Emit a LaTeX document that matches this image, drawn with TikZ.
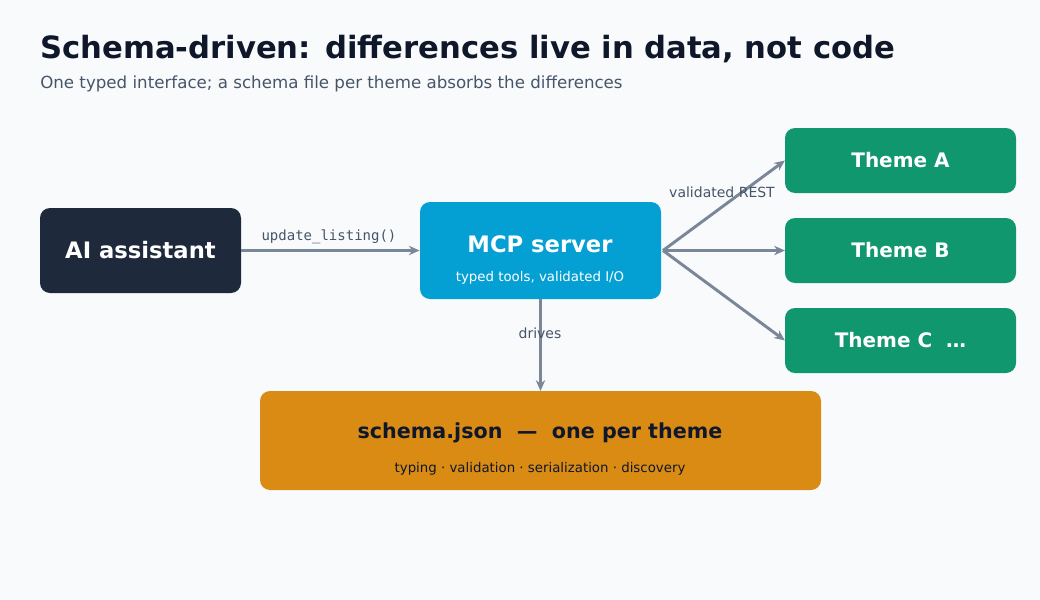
\documentclass[tikz,border=0pt]{standalone}
\usepackage{fontspec}
\setmainfont{DejaVu Sans}
\setmonofont{DejaVu Sans Mono}
\usetikzlibrary{arrows.meta}
\definecolor{bg}{HTML}{F8FAFC}
\definecolor{ink}{HTML}{0F172A}
\definecolor{sub}{HTML}{475569}
\definecolor{dark}{HTML}{1E293B}
\definecolor{mcp}{HTML}{04A0D4}
\definecolor{theme}{HTML}{10976D}
\definecolor{schema}{HTML}{D98B14}
\definecolor{arr}{HTML}{7B8699}
\begin{document}
\begin{tikzpicture}[x=0.75pt,y=-0.75pt,
  box/.style={draw=none,rounded corners=9pt,inner sep=0pt},
  conn/.style={draw=arr,line width=2.2pt,-{Stealth[length=8pt,width=7pt]}},
  lbl/.style={text=sub,font=\fontsize{10.5}{12}\selectfont}]
\fill[bg] (0,0) rectangle (1040,600);
\useasboundingbox (0,0) rectangle (1040,600);
\node[anchor=base west,text=ink,font=\fontsize{23}{27}\bfseries\selectfont,inner sep=0] (title) at (40,58) {Schema-driven: differences live in data, not code};
\node[anchor=base west,text=sub,font=\fontsize{12.5}{15}\selectfont,inner sep=0] (subt) at (40,88) {One typed interface; a schema file per theme absorbs the differences};
\fill[dark,rounded corners=7.5pt] (40,208) rectangle (241,293);
\node (ai) at (140.5,250.5) [minimum width=151pt,minimum height=64pt,text=white,font=\fontsize{17}{20}\bfseries\selectfont] {AI assistant};
\fill[mcp,rounded corners=7.5pt] (420,202) rectangle (661,299);
\node (mcp) at (540.5,250.5) [minimum width=181pt,minimum height=73pt] {};
\node[text=white,font=\fontsize{17}{20}\bfseries\selectfont] (mcpt) at (540,244) {MCP server};
\node[text=white,font=\fontsize{10}{12}\selectfont] (mcps) at (540,278) {typed tools, validated I/O};
\foreach \n/\y/\t in {ta/160.5/Theme A, tb/250.5/Theme B, tc/340.5/{Theme C\ \ …}}{
  \fill[theme,rounded corners=7.5pt] (785,\y-32.5) rectangle (1016,\y+32.5);
  \node (\n) at (900.5,\y) [minimum width=173pt,minimum height=49pt,text=white,font=\fontsize{15}{18}\bfseries\selectfont] {\t};
}
\fill[schema,rounded corners=7.5pt] (260,391) rectangle (821,490);
\node (sch) at (540.5,440.5) [minimum width=421pt,minimum height=74pt] {};
\node[text=ink,font=\fontsize{15.5}{18}\bfseries\selectfont] (scht) at (540,433) {schema.json\ \ —\ \ one per theme};
\node[text=ink,font=\fontsize{10}{12}\selectfont] (schs) at (540,469) {typing · validation · serialization · discovery};
\coordinate (hub) at (663,250.5);
\draw[conn] (ai.east) -- (mcp.west);
\node[lbl,font=\fontsize{10.5}{12}\ttfamily\selectfont] (l1) at (329,237) {update\_listing()};
\draw[conn] (hub) -- (ta.west);
\draw[conn] (hub) -- (tb.west);
\draw[conn] (hub) -- (tc.west);
\node[lbl] (l2) at (722,192) {validated REST};
\draw[conn] (mcp.south) -- (sch.north);
\node[lbl] (l3) at (540,333) {drives};
\end{tikzpicture}
\end{document}
